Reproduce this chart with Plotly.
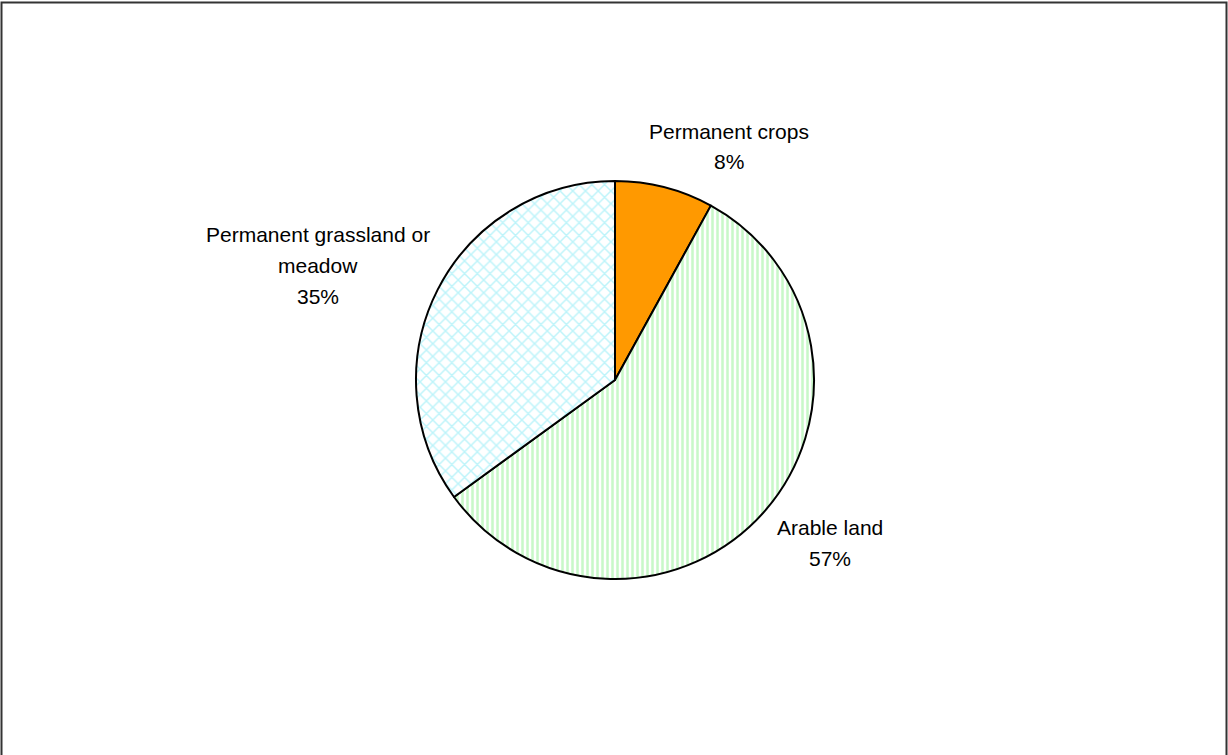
import plotly.graph_objects as go

# Land use shares (percent), clockwise from 12 o'clock
categories = ["Permanent crops", "Arable land", "Permanent grassland or meadow"]
shares = [8, 57, 35]
label_lines = [["Permanent crops"], ["Arable land"], ["Permanent grassland or", "meadow"]]

W, H = 1228, 755

fig = go.Figure(
    go.Pie(
        labels=categories,
        values=shares,
        sort=False,
        direction="clockwise",
        rotation=0,
        textinfo="none",
        hoverinfo="label+percent",
        showlegend=False,
        domain=dict(x=[416 / W, 814 / W], y=[1 - 579 / H, 1 - 181 / H]),
        marker=dict(
            colors=["#FF9900", "#FFFFFF", "#FFFFFF"],
            line=dict(color="#000000", width=2),
            pattern=dict(
                shape=["", "|", "x"],
                fgcolor=["#FF9900", "#C8F8C8", "#BDF4FA"],
                bgcolor=["#FF9900", "#FFFFFF", "#FFFFFF"],
                size=[8, 5, 9],
                solidity=[1, 0.5, 0.3],
                fillmode="replace",
            ),
        ),
    )
)

# Outside labels: category name lines followed by the rounded share,
# positioned by the pixel centre of the first line
total = sum(shares)
label_pos = [(729, 131), (830, 527), (318, 234)]
line_step = 31
label_font = dict(family="Liberation Sans, Arial, sans-serif", size=21, color="#000000")
for lines, v, (px, py) in zip(label_lines, shares, label_pos):
    for i, txt in enumerate(lines + [f"{round(100 * v / total)}%"]):
        fig.add_annotation(
            x=px / W, y=1 - (py + i * line_step) / H, xref="paper", yref="paper",
            text=txt, showarrow=False, xanchor="center", yanchor="middle",
            font=label_font,
        )

# Chart-area frame
fig.add_shape(
    type="rect", xref="paper", yref="paper",
    x0=1.5 / W, x1=1 - 1.5 / W, y0=-0.02, y1=1 - 2.5 / H,
    line=dict(color="#333333", width=2), fillcolor="rgba(0,0,0,0)",
)

fig.update_layout(
    width=W, height=H,
    margin=dict(l=0, r=0, t=0, b=0),
    paper_bgcolor="#FFFFFF", plot_bgcolor="#FFFFFF",
)

fig.write_html("out.html")
